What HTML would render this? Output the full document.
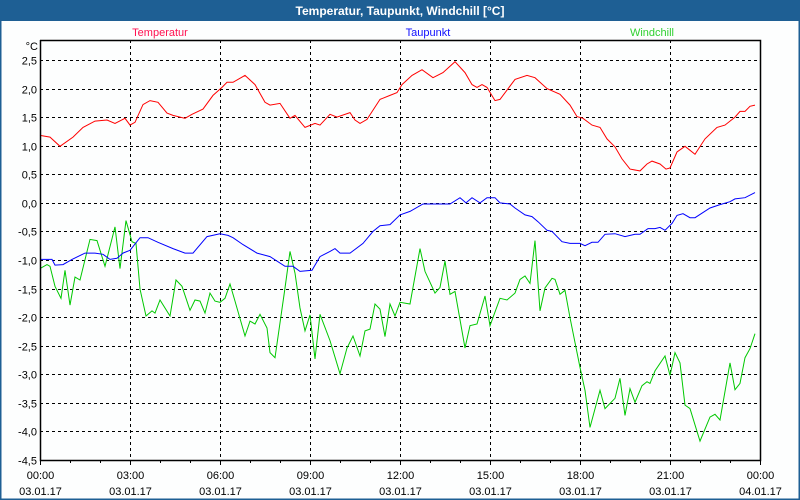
<!DOCTYPE html>
<html><head><meta charset="utf-8"><style>
body{margin:0;width:800px;height:500px;overflow:hidden;background:#fff;font-family:"Liberation Sans",sans-serif}
svg{display:block}
</style></head><body>
<svg id="chart" width="800" height="500">
<rect x="0" y="0" width="800" height="500" fill="#fdfefe"/>
<rect x="0" y="0" width="800" height="21" fill="#1e5f94"/>
<rect x="0" y="0" width="800" height="500" fill="none" stroke="#1e5f94" stroke-width="3"/>
<text x="400" y="15" text-anchor="middle" font-size="12" font-weight="bold" fill="#fff">Temperatur, Taupunkt, Windchill [°C]</text>
<text x="160" y="36" text-anchor="middle" font-size="11" fill="#ff1050">Temperatur</text>
<text x="428" y="36" text-anchor="middle" font-size="11" fill="#1010ff">Taupunkt</text>
<text x="652" y="36" text-anchor="middle" font-size="11" fill="#30d030">Windchill</text>
<text x="38" y="50" text-anchor="end" font-size="11" fill="#000">°C</text>
<g id="grid"></g>
<g id="series"></g>
<g id="axes"></g>
</svg>
<script>
const yTicks = [2.5,2.0,1.5,1.0,0.5,0.0,-0.5,-1.0,-1.5,-2.0,-2.5,-3.0,-3.5,-4.0,-4.5];
const xTickHours = [0,3,6,9,12,15,18,21,24];
const xTickTimes = ["00:00","03:00","06:00","09:00","12:00","15:00","18:00","21:00","00:00"];
const xTickDates = ["03.01.17","03.01.17","03.01.17","03.01.17","03.01.17","03.01.17","03.01.17","03.01.17","04.01.17"];

const tempMin = [0,20,40,66,86,110,134,150,170,180,190,206,220,236,254,266,290,304,326,346,364,374,386,410,430,450,460,480,500,510,530,550,560,580,594,620,630,640,654,680,700,714,724,744,764,786,806,830,850,864,874,884,894,910,920,950,974,990,1014,1040,1060,1074,1086,1104,1120,1134,1150,1164,1180,1200,1214,1224,1240,1252,1260,1274,1290,1310,1330,1354,1370,1390,1400,1410,1420,1430];
const tempVals = [1.18,1.15,0.99,1.15,1.32,1.43,1.45,1.39,1.48,1.36,1.41,1.72,1.79,1.76,1.57,1.53,1.48,1.55,1.64,1.88,2.02,2.11,2.11,2.23,2.07,1.76,1.71,1.74,1.48,1.53,1.32,1.39,1.36,1.55,1.50,1.58,1.45,1.39,1.46,1.81,1.88,1.93,2.07,2.23,2.33,2.19,2.28,2.47,2.28,2.07,2.02,2.07,2.02,1.79,1.81,2.16,2.23,2.19,2.00,1.90,1.71,1.51,1.48,1.36,1.32,1.12,0.98,0.77,0.59,0.56,0.68,0.73,0.68,0.59,0.61,0.89,0.99,0.85,1.12,1.32,1.36,1.50,1.60,1.60,1.69,1.71];

const dewMin = [0,24,30,46,64,90,110,126,140,154,166,180,200,216,236,266,290,306,334,360,376,386,406,434,460,490,506,520,544,560,580,590,600,620,646,666,680,700,720,740,766,820,840,852,864,880,894,910,920,940,950,970,984,996,1014,1024,1044,1060,1080,1090,1104,1116,1130,1150,1170,1190,1200,1216,1230,1240,1250,1264,1274,1286,1300,1310,1340,1360,1380,1390,1410,1430];
const dewVals = [-0.99,-0.99,-1.09,-1.08,-0.99,-0.88,-0.88,-0.90,-0.99,-0.97,-0.88,-0.83,-0.61,-0.61,-0.69,-0.80,-0.88,-0.88,-0.59,-0.54,-0.57,-0.61,-0.73,-0.88,-0.94,-1.11,-1.11,-1.20,-1.18,-0.94,-0.85,-0.80,-0.88,-0.88,-0.71,-0.50,-0.40,-0.38,-0.21,-0.15,-0.02,-0.02,0.09,0.00,0.09,0.00,0.09,0.09,0.00,-0.02,-0.09,-0.21,-0.24,-0.33,-0.48,-0.50,-0.68,-0.71,-0.71,-0.75,-0.69,-0.69,-0.55,-0.54,-0.59,-0.55,-0.55,-0.45,-0.45,-0.43,-0.48,-0.36,-0.22,-0.19,-0.26,-0.26,-0.09,-0.03,0.02,0.07,0.09,0.18];

const chillMin = [0,14,20,30,42,50,60,70,80,100,114,130,150,160,172,184,192,200,212,224,230,240,260,272,284,300,310,320,330,340,350,360,370,380,390,410,420,430,440,454,460,470,490,500,510,520,530,540,550,560,580,600,614,626,640,650,660,670,680,690,700,710,720,740,760,770,790,800,810,820,830,850,860,874,890,900,920,934,950,960,970,980,990,1000,1010,1024,1030,1040,1050,1060,1080,1090,1100,1120,1130,1150,1160,1170,1180,1190,1204,1214,1220,1230,1250,1260,1270,1280,1290,1300,1320,1340,1350,1360,1380,1390,1400,1410,1420,1430];
const chillVals = [-1.15,-1.08,-1.11,-1.46,-1.67,-1.18,-1.79,-1.30,-1.35,-0.64,-0.66,-1.11,-0.42,-1.15,-0.31,-0.68,-0.71,-1.51,-1.98,-1.89,-1.93,-1.70,-1.98,-1.35,-1.46,-1.88,-1.70,-1.72,-1.93,-1.58,-1.72,-1.74,-1.67,-1.42,-1.72,-2.33,-2.07,-2.12,-1.95,-2.19,-2.62,-2.71,-1.49,-0.85,-1.23,-1.84,-2.24,-1.96,-2.73,-1.95,-2.41,-2.99,-2.54,-2.33,-2.68,-2.24,-2.21,-1.77,-1.86,-2.34,-1.77,-1.98,-1.74,-1.77,-0.80,-1.20,-1.58,-1.48,-1.02,-1.60,-1.55,-2.54,-2.15,-2.12,-1.63,-2.15,-1.67,-1.70,-1.58,-1.34,-1.28,-1.41,-0.66,-1.89,-1.49,-1.32,-1.34,-1.60,-1.53,-2.01,-2.88,-3.28,-3.93,-3.28,-3.60,-3.42,-3.07,-3.72,-3.25,-3.49,-3.20,-3.13,-3.16,-2.94,-2.68,-3.02,-2.62,-2.80,-3.54,-3.60,-4.17,-3.75,-3.70,-3.80,-2.80,-3.27,-3.16,-2.71,-2.55,-2.29];

const NS = "http://www.w3.org/2000/svg";
const L = 40, R = 760, T = 40, B = 460;
function xMin(m){ return L + (m/1440)*(R-L); }
function yVal(v){ return B - (v + 4.5) * (400/7); }

const grid = document.getElementById('grid');
const axes = document.getElementById('axes');
const series = document.getElementById('series');

yTicks.forEach(function(v){
  const y = Math.round(yVal(v)) + 0.5;
  const ln = document.createElementNS(NS,'line');
  
  
  ln.setAttribute('x1', L); ln.setAttribute('x2', R);
  ln.setAttribute('y1', y); ln.setAttribute('y2', y);
  ln.setAttribute('stroke', '#000'); ln.setAttribute('stroke-dasharray', '3,3');
  grid.appendChild(ln);
  const t = document.createElementNS(NS,'text');
  
  
  t.setAttribute('x', 37); t.setAttribute('y', y + 4);
  t.setAttribute('text-anchor', 'end'); t.setAttribute('font-size', '11');
  t.textContent = v.toFixed(1).replace('.', ',');
  axes.appendChild(t);
});

xTickHours.forEach(function(h, i){
  const x = Math.round(xMin(h*60)) + 0.5;
  if (i > 0 && i < xTickHours.length - 1) {
    const ln = document.createElementNS(NS,'line');
    
    
    ln.setAttribute('x1', x); ln.setAttribute('x2', x);
    ln.setAttribute('y1', T); ln.setAttribute('y2', B);
    ln.setAttribute('stroke', '#000'); ln.setAttribute('stroke-dasharray', '3,3');
    grid.appendChild(ln);
  }
  const t1 = document.createElementNS(NS,'text');
  
  
  t1.setAttribute('x', x); t1.setAttribute('y', 479);
  t1.setAttribute('text-anchor', 'middle'); t1.setAttribute('font-size', '11');
  t1.textContent = xTickTimes[i];
  axes.appendChild(t1);
  const t2 = document.createElementNS(NS,'text');
  
  
  t2.setAttribute('x', x); t2.setAttribute('y', 495);
  t2.setAttribute('text-anchor', 'middle'); t2.setAttribute('font-size', '11');
  t2.textContent = xTickDates[i];
  axes.appendChild(t2);
});

for (let h = 0; h <= 24; h++) {
  const x = Math.round(xMin(h*60)) + 0.5;
  const tk = document.createElementNS(NS,'line');
  
  
  tk.setAttribute('x1', x); tk.setAttribute('x2', x);
  tk.setAttribute('y1', B); tk.setAttribute('y2', B + (h % 3 === 0 ? 5 : 3));
  tk.setAttribute('stroke', '#000');
  axes.appendChild(tk);
}

const frame = document.createElementNS(NS,'path');


frame.setAttribute('d', 'M'+(L+0.5)+','+T+' V'+(B+0.5)+' H'+(R+0.5)+' V'+(T+0.5)+' H'+L);
frame.setAttribute('fill', 'none'); frame.setAttribute('stroke', '#000'); frame.setAttribute('stroke-width', '1.5');
axes.appendChild(frame);

function drawLine(mins, vals, color, name){
  const p = document.createElementNS(NS,'polyline');
  
  
  p.setAttribute('points', mins.map(function(m,i){ return xMin(m).toFixed(1)+','+yVal(vals[i]).toFixed(1); }).join(' '));
  p.setAttribute('fill', 'none'); p.setAttribute('stroke', color); p.setAttribute('stroke-width', '1');
  series.appendChild(p);
}
drawLine(chillMin, chillVals, '#00c800', 'windchill-line');
drawLine(dewMin, dewVals, '#0000ff', 'taupunkt-line');
drawLine(tempMin, tempVals, '#ff0000', 'temperatur-line');
</script>
</body></html>
